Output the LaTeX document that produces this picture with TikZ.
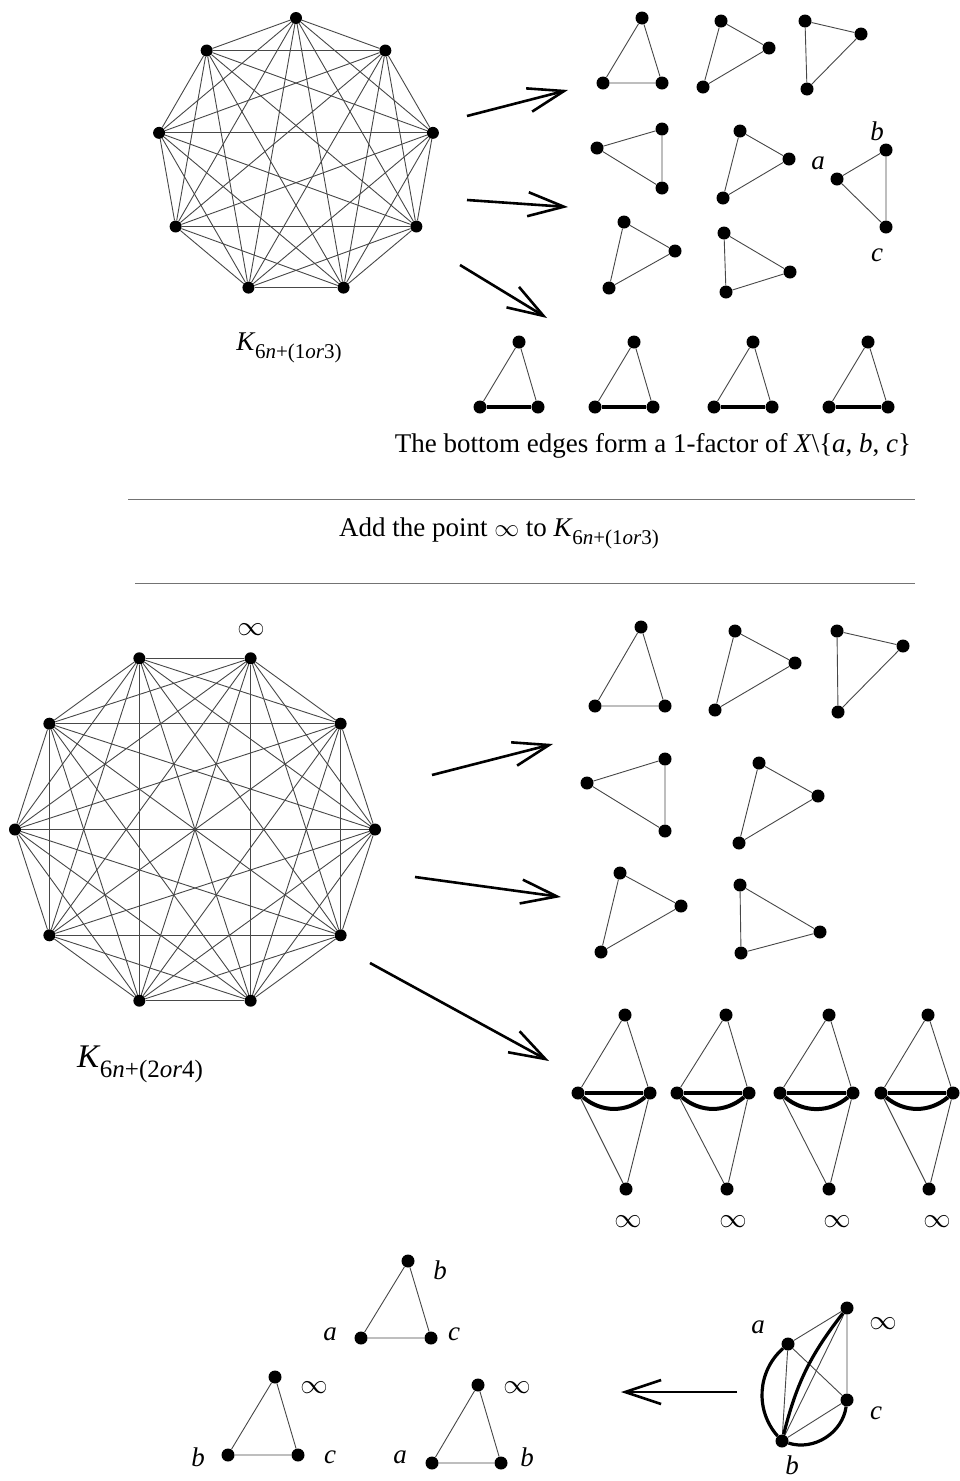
\documentclass[tikz,border=0pt]{standalone}
\usepackage{fontspec}
\setmainfont{Liberation Serif}
\usetikzlibrary{arrows.meta}

% K with a subscripted order, e.g. K_{6n+(1 or 3)}
\newcommand{\Kname}[2]{\textit{K}\kern-0.5pt\raisebox{-0.3em}{\fontsize{#2}{#2}\selectfont 6\textit{n}+(#1)}}
% the point at infinity, a little larger than the largest math size
\newcommand{\pinf}{\scalebox{1.1}{$\infty$}}

\tikzset{
  v/.style={circle,fill=black,inner sep=0pt,minimum size=13pt},
  edge/.style={draw=black!72,line width=0.9pt},
  bold/.style={draw=black,line width=4pt},
  rule/.style={draw=black!55,line width=0.9pt},
  bigarrow/.style={draw=black,line width=2.6pt,-{Straight Barb[length=36pt,width=24pt]}},
  lbl/.style={inner sep=0pt,font=\fontsize{27}{32}\selectfont},
  inf/.style={inner sep=0pt,font=\fontsize{25}{30}\selectfont},
}

% triangle: name, three vertex positions
\newcommand{\trio}[4]{%
  \node[v] (#1a) at (#2) {};
  \node[v] (#1b) at (#3) {};
  \node[v] (#1c) at (#4) {};
  \draw[edge] (#1a) -- (#1b) -- (#1c) -- (#1a);}

% triangle whose base edge b--c is bold
\newcommand{\basetrio}[4]{%
  \trio{#1}{#2}{#3}{#4}
  \draw[bold] (#1b) -- (#1c);}

% two triangles on a common bold edge, the double edge bent below
\newcommand{\diam}[6]{%
  \node[v] (#1t) at (#2) {};
  \node[v] (#1l) at (#3) {};
  \node[v] (#1r) at (#4) {};
  \node[v] (#1d) at (#5) {};
  \draw[edge] (#1l) -- (#1t) -- (#1r) -- (#1d) -- (#1l);
  \draw[bold] (#1l) -- (#1r);
  \draw[bold] (#1l) to[bend right=40] (#1r);
  \node[inf] (#1inf) at (#6) {\pinf};}

\begin{document}
\begin{tikzpicture}[x=1pt,y=-1pt]
\useasboundingbox (0,0) rectangle (960,1481);

% ---------- complete graph on 9 points ----------
\foreach \i in {1,...,9}
  \node[v,minimum size=12pt] (k\i) at ({296+139*cos(90+40*(\i-1))},{157-139*sin(90+40*(\i-1))}) {};
\foreach \i in {1,...,9}{
  \foreach \j in {1,...,9}{
    \ifnum\i<\j \draw[edge] (k\i) -- (k\j);\fi
  }}
\node[lbl] (k9lab) at (289,348) {\Kname{1\textit{or}3}{21}};

% arrows to the decomposition
\coordinate (a1s) at (467,116); \coordinate (a1e) at (568,90);
\coordinate (a2s) at (467,200); \coordinate (a2e) at (568,207);
\coordinate (a3s) at (460,265); \coordinate (a3e) at (547,318);
\draw[bigarrow] (a1s) -- (a1e);
\draw[bigarrow] (a2s) -- (a2e);
\draw[bigarrow] (a3s) -- (a3e);

% triangles of the decomposition
\trio{t1}{642,18}{603,83}{662,83}
\trio{t2}{721,21}{769,48}{703,87}
\trio{t3}{805,21}{861,34}{807,89}
\trio{t4}{662,129}{597,148}{662,188}
\trio{t5}{740,131}{789,159}{723,198}
\trio{t6}{837,179}{886,150}{886,227}
\node[lbl] (t6alab) at (818,163) {\textit{a}};
\node[lbl] (t6blab) at (877,131) {\textit{b}};
\node[lbl] (t6clab) at (877,255) {\textit{c}};
\trio{t7}{624,222}{675,251}{609,288}
\trio{t8}{724,233}{790,272}{726,292}

\basetrio{s1}{519,342}{480,407}{538,407}
\basetrio{s2}{634,342}{595,407}{653,407}
\basetrio{s3}{753,342}{714,407}{772,407}
\basetrio{s4}{868,342}{829,407}{888,407}
\node[lbl] (factor) at (653,446) {The bottom edges form a 1-factor of \textit{X}\textbackslash\{\textit{a}, \textit{b}, \textit{c}\}};

% ---------- separator ----------
\coordinate (r1l) at (128,499); \coordinate (r1r) at (915,499);
\draw[rule] (r1l) -- (r1r);
\node[lbl] (addinf) at (499,533) {Add the point $\infty$ to \Kname{1\textit{or}3}{21}};
\coordinate (r2l) at (135,583); \coordinate (r2r) at (915,583);
\draw[rule] (r2l) -- (r2r);

% ---------- complete graph on 10 points ----------
\foreach \i in {0,...,9}
  \node[v,minimum size=12pt] (m\i) at ({195+180*cos(36*\i)},{829.5-180*sin(36*\i)}) {};
\foreach \i in {0,...,9}{
  \foreach \j in {0,...,9}{
    \ifnum\i<\j \draw[edge] (m\i) -- (m\j);\fi
  }}
\node[inf] (inftop) at (251,630) {\pinf};
\node[lbl,font=\fontsize{33}{38}\selectfont] (k10lab) at (140,1064) {\Kname{2\textit{or}4}{25}};

\coordinate (b1s) at (432,775); \coordinate (b1e) at (553,744);
\coordinate (b2s) at (415,877); \coordinate (b2e) at (561,897);
\coordinate (b3s) at (370,963); \coordinate (b3e) at (549,1061);
\draw[bigarrow] (b1s) -- (b1e);
\draw[bigarrow] (b2s) -- (b2e);
\draw[bigarrow] (b3s) -- (b3e);

\trio{u1}{641,627}{595,706}{665,706}
\trio{u2}{735,631}{795,663}{715,710}
\trio{u3}{837,631}{903,646}{838,712}
\trio{u4}{665,759}{587,783}{665,831}
\trio{u5}{759,763}{818,796}{739,843}
\trio{u6}{620,873}{681,906}{601,952}
\trio{u7}{740,885}{820,932}{741,953}

\diam{d1}{625,1015}{578,1093}{650,1093}{626,1189}{628,1222}
\diam{d2}{726,1015}{677,1093}{749,1093}{727,1189}{733,1222}
\diam{d3}{829,1015}{780,1093}{853,1093}{829,1189}{837,1222}
\diam{d4}{928,1015}{881,1093}{953,1093}{929,1189}{937,1222}

% ---------- splitting a, b, c, infinity ----------
\node[v] (qi) at (847,1308) {};
\node[v] (qa) at (788,1344) {};
\node[v] (qc) at (847,1400) {};
\node[v] (qb) at (782,1441) {};
\draw[edge] (qa) -- (qi) -- (qc) -- (qb) -- (qa) -- (qc);
\draw[edge] (qb) -- (qi);
\draw[bold,line width=3.2pt] (qa) to[bend right=45] (qb);
\draw[bold,line width=3.2pt] (qb) to[bend left=12] (qi);
\draw[bold,line width=3.2pt] (qb) to[bend right=50] (qc);
\node[lbl] (qalab) at (758,1327) {\textit{a}};
\node[inf] (qilab) at (883,1324) {\pinf};
\node[lbl] (qclab) at (876,1413) {\textit{c}};
\node[lbl] (qblab) at (792,1465) {\textit{b}};

\coordinate (c1s) at (737,1392); \coordinate (c1e) at (621,1392);
\draw[bigarrow] (c1s) -- (c1e);

\trio{w1}{408,1261}{361,1338}{431,1338}
\node[lbl] (w1blab) at (440,1270) {\textit{b}};
\node[lbl] (w1alab) at (330,1334) {\textit{a}};
\node[lbl] (w1clab) at (454,1334) {\textit{c}};

\trio{w2}{275,1377}{228,1455}{298,1455}
\node[inf] (w2ilab) at (314,1388) {\pinf};
\node[lbl] (w2blab) at (198,1457) {\textit{b}};
\node[lbl] (w2clab) at (330,1457) {\textit{c}};

\trio{w3}{478,1385}{432,1463}{501,1463}
\node[inf] (w3ilab) at (517,1388) {\pinf};
\node[lbl] (w3alab) at (400,1457) {\textit{a}};
\node[lbl] (w3blab) at (527,1457) {\textit{b}};
\end{tikzpicture}
\end{document}
